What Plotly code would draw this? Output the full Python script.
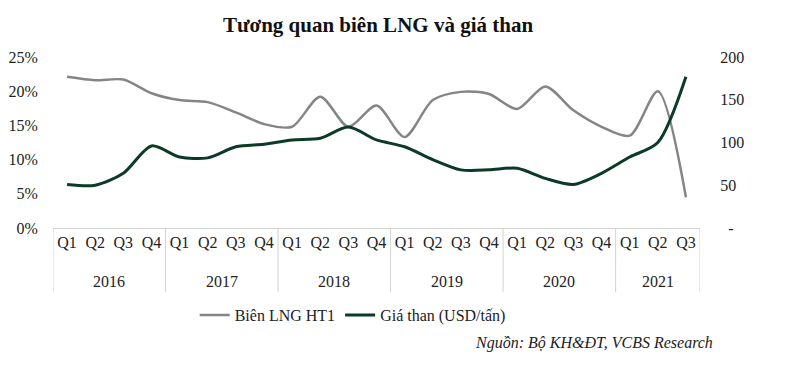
import plotly.graph_objects as go

years = ["2016"] * 4 + ["2017"] * 4 + ["2018"] * 4 + ["2019"] * 4 + ["2020"] * 4 + ["2021"] * 3
quarters = ["Q1", "Q2", "Q3", "Q4"] * 5 + ["Q1", "Q2", "Q3"]

margin_lng = [22.1, 21.6, 21.7, 19.7, 18.7, 18.4, 16.9, 15.2,
              14.8, 19.2, 14.8, 17.9, 13.3, 18.7, 19.9, 19.6,
              17.4, 20.7, 17.2, 14.8, 13.5, 20.0, 4.5]
coal_price = [51, 50, 64, 96, 83, 82, 95, 98,
              103, 105, 118, 103, 95, 80, 68, 68,
              70, 58, 51, 64, 83, 100, 177]

left_ticks = [0, 5, 10, 15, 20, 25]
left_text = ["0%", "5%", "10%", "15%", "20%", "25%"]
right_ticks = [0, 50, 100, 150, 200]
right_text = ["  -", "50", "100", "150", "200"]

FONT = "Liberation Serif"
TXT = "#222"
FS = 16

idx = list(range(len(quarters)))

fig = go.Figure()
fig.add_trace(go.Scatter(
    x=idx, y=margin_lng, name="Biên LNG HT1",
    mode="lines", line=dict(color="#858585", width=2.5, shape="spline", smoothing=0.8),
    yaxis="y"))
fig.add_trace(go.Scatter(
    x=idx, y=coal_price, name="Giá than (USD/tấn)",
    mode="lines", line=dict(color="#0b3b26", width=3, shape="spline", smoothing=0.8),
    yaxis="y2"))

# year group labels and dividers derived from the category arrays
groups = []
for i, y in enumerate(years):
    if not groups or groups[-1][0] != y:
        groups.append([y, i, i])
    else:
        groups[-1][2] = i

annotations = []
shapes = []
for name, start, end in groups:
    annotations.append(dict(text=name, x=(start + end) / 2, xref="x", y=-0.31, yref="paper",
                            showarrow=False, xanchor="center", yanchor="middle",
                            font=dict(family=FONT, size=FS, color=TXT)))
    shapes.append(dict(type="line", xref="x", yref="paper", x0=start - 0.5, x1=start - 0.5,
                       y0=0, y1=-0.375, line=dict(color="#d3d3d3", width=1)))
shapes.append(dict(type="line", xref="x", yref="paper", x0=groups[-1][2] + 0.5,
                   x1=groups[-1][2] + 0.5, y0=0, y1=-0.375, line=dict(color="#d3d3d3", width=1)))

annotations.append(dict(text="<i>Nguồn: Bộ KH&ĐT, VCBS Research</i>", xref="paper", yref="paper",
                        x=1.023, y=-0.67, xanchor="right", yanchor="middle", showarrow=False,
                        font=dict(family=FONT, size=FS, color=TXT)))

fig.update_layout(
    width=800, height=374,
    paper_bgcolor="white", plot_bgcolor="white",
    margin=dict(l=53, r=100, t=57, b=146),
    font=dict(family=FONT, size=FS, color=TXT),
    title=dict(text="<b>Tương quan biên LNG và giá than</b>", x=0.4725, xanchor="center",
               y=0.933, yanchor="middle", font=dict(family=FONT, size=21, color="#111")),
    showlegend=True,
    legend=dict(orientation="h", x=0.219, y=-0.51, xanchor="left", yanchor="middle",
                font=dict(family=FONT, size=FS, color=TXT), bgcolor="rgba(0,0,0,0)"),
    xaxis=dict(range=[-0.5, len(quarters) - 0.5], tickvals=idx, ticktext=quarters,
               showline=True, linecolor="#d3d3d3", linewidth=1, showgrid=False, zeroline=False,
               ticks="", automargin=False,
               tickfont=dict(family=FONT, size=FS, color=TXT)),
    yaxis=dict(range=[0, 25], tickvals=left_ticks, ticktext=left_text, showgrid=False,
               zeroline=False, showline=False, ticks="outside", ticklen=11, automargin=False,
               tickcolor="rgba(0,0,0,0)", tickfont=dict(family=FONT, size=FS, color=TXT)),
    yaxis2=dict(range=[0, 200], tickvals=right_ticks, ticktext=right_text, overlaying="y",
                side="right", showgrid=False, zeroline=False, showline=False, automargin=False,
                ticks="outside", ticklen=16, tickcolor="rgba(0,0,0,0)",
                tickfont=dict(family=FONT, size=FS, color=TXT)),
    annotations=annotations,
    shapes=shapes,
)

fig.write_html("out.html", config={"displayModeBar": False},
               post_script="document.body.style.margin='0';")
